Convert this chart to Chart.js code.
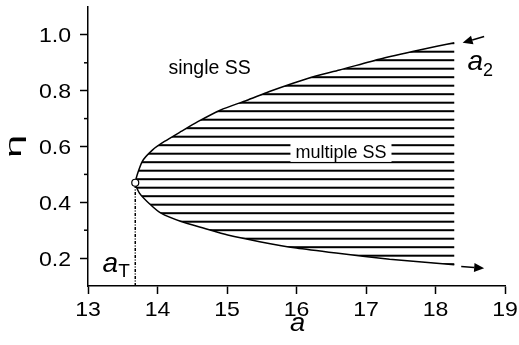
<!DOCTYPE html>
<html>
<head>
<meta charset="utf-8">
<script src="https://cdn.jsdelivr.net/npm/chart.js@4"></script>
<style>
  html, body { margin: 0; padding: 0; background: #fff; }
  canvas { display: block; }
</style>
</head>
<body>
<canvas id="fold" width="519" height="345"></canvas>
<script>
// 分岐曲線（下側の枝：右端から折り返し点へ）
const lowerA   = [18.27, 17.34, 16.57, 16.00, 15.47, 15.01, 14.67, 14.34, 14.05, 13.90, 13.74];
const lowerEta = [0.176, 0.196, 0.218, 0.236, 0.259, 0.283, 0.307, 0.331, 0.361, 0.391, 0.433];
// 上側の枝：折り返し点から右端へ
const upperA   = [13.78, 13.93, 14.10, 14.34, 14.58, 14.91, 15.28, 15.61, 15.95, 16.28, 16.62, 17.19, 17.77, 18.27];
const upperEta = [0.546, 0.588, 0.618, 0.654, 0.689, 0.731, 0.765, 0.797, 0.827, 0.853, 0.874, 0.913, 0.946, 0.972];

// 折り返し点 a_T
const turnA = 13.68;
const turnEta = 0.47;

// 目盛り
const xTicks = [13, 14, 15, 16, 17, 18, 19];
const yTicks = [0.2, 0.4, 0.6, 0.8, 1.0];
const yMinorTicks = [0.3, 0.5, 0.7, 0.9];

const FONT = '"Liberation Sans", Arial, sans-serif';

// 曲線を一本につなぐ
const curve = [];
for (let i = 0; i < lowerA.length; i++) curve.push({ x: lowerA[i], y: lowerEta[i] });
curve.push({ x: turnA, y: turnEta });
for (let i = 0; i < upperA.length; i++) curve.push({ x: upperA[i], y: upperEta[i] });

// 横線ハッチのパターン
function makeHatch() {
    const c = document.createElement('canvas');
    c.width = 4;
    c.height = 17;
    const g = c.getContext('2d');
    g.fillStyle = '#000';
    g.fillRect(0, 0, 4, 1.7);
    g.fillRect(0, 16.7, 4, 0.3);
    g.fillRect(0, 8.2, 4, 2);
    return g.createPattern(c, 'repeat');
}

// 横に少し伸ばした文字
function wideText(ctx, text, x, y, font, sx, align) {
    ctx.save();
    ctx.translate(x, y);
    ctx.scale(sx, 1);
    ctx.font = font;
    ctx.textAlign = align;
    ctx.textBaseline = 'alphabetic';
    ctx.fillStyle = '#000';
    ctx.fillText(text, 0, 0);
    ctx.restore();
}

// 矢印
function arrow(ctx, x1, y1, x2, y2) {
    const ang = Math.atan2(y2 - y1, x2 - x1);
    const len = 10, half = 4.5;
    const bx = x2 - len * Math.cos(ang), by = y2 - len * Math.sin(ang);
    ctx.beginPath();
    ctx.moveTo(x1, y1);
    ctx.lineTo(bx, by);
    ctx.lineWidth = 1.5;
    ctx.strokeStyle = '#000';
    ctx.stroke();
    ctx.beginPath();
    ctx.moveTo(x2, y2);
    ctx.lineTo(bx + half * Math.sin(ang), by - half * Math.cos(ang));
    ctx.lineTo(bx - half * Math.sin(ang), by + half * Math.cos(ang));
    ctx.closePath();
    ctx.fillStyle = '#000';
    ctx.fill();
}

// 添字つきの a
function subLabel(ctx, x, y, sub, subSize, drop) {
    ctx.fillStyle = '#000';
    ctx.textAlign = 'left';
    ctx.textBaseline = 'alphabetic';
    ctx.font = 'italic 28px ' + FONT;
    ctx.fillText('a', x, y);
    const w = ctx.measureText('a').width;
    ctx.font = subSize + 'px ' + FONT;
    ctx.fillText(sub, x + w, y + drop);
}

const notes = {
    id: 'notes',
    afterDraw(chart) {
        const ctx = chart.ctx;
        const xs = chart.scales.x, ys = chart.scales.y;
        const px = v => xs.getPixelForValue(v);
        const py = v => ys.getPixelForValue(v);
        const area = chart.chartArea;
        ctx.save();

        // y軸の補助目盛り
        ctx.strokeStyle = '#000';
        ctx.lineWidth = 1.5;
        yMinorTicks.forEach(v => {
            ctx.beginPath();
            ctx.moveTo(area.left - 4, py(v));
            ctx.lineTo(area.left, py(v));
            ctx.stroke();
        });

        // 目盛りラベル
        const tickFont = '21px ' + FONT;
        yTicks.forEach(v => wideText(ctx, v.toFixed(1), area.left - 17, py(v) + 7.5, tickFont, 1.1, 'right'));
        xTicks.forEach(v => wideText(ctx, String(v), px(v), area.bottom + 29.5, tickFont, 1.1, 'center'));

        // 軸タイトル
        wideText(ctx, 'a', (area.left + area.right) / 2 + 1, area.bottom + 45, 'italic 26px ' + FONT, 1.05, 'center');
        ctx.save();
        ctx.translate(21, (area.top + area.bottom) / 2);
        ctx.rotate(-Math.PI / 2);
        ctx.scale(1.9, 1);
        ctx.font = '22px ' + FONT;
        ctx.textAlign = 'center';
        ctx.textBaseline = 'alphabetic';
        ctx.fillStyle = '#000';
        ctx.fillText('η', 0, 0);
        ctx.restore();

        // 領域のラベル
        ctx.font = '19.5px ' + FONT;
        ctx.textAlign = 'center';
        ctx.textBaseline = 'middle';
        ctx.fillStyle = '#000';
        ctx.fillText('single SS', px(14.75), py(0.878));

        ctx.font = '18px ' + FONT;
        const mx = px(16.64), my = py(0.577);
        const mw = ctx.measureText('multiple SS').width;
        ctx.fillStyle = '#fff';
        ctx.fillRect(mx - mw / 2 - 5, my - 9, mw + 10, 18);
        ctx.fillStyle = '#000';
        ctx.fillText('multiple SS', mx, my);

        // 枝の向き
        arrow(ctx, px(18.70), py(0.994), px(18.39), py(0.972));
        arrow(ctx, px(18.37), py(0.170), px(18.70), py(0.164));

        subLabel(ctx, px(18.46), py(0.875), '2', 18, 6);
        subLabel(ctx, px(13.21), py(0.151), 'T', 19, 5);

        ctx.restore();
    }
};

new Chart(document.getElementById('fold'), {
    type: 'line',
    data: {
        datasets: [
            {
                // 折り返し点
                data: [{ x: turnA, y: turnEta }],
                showLine: false,
                pointRadius: 3.5,
                pointBackgroundColor: '#fff',
                pointBorderColor: '#000',
                pointBorderWidth: 1.2
            },
            {
                // 曲線
                data: curve,
                borderColor: '#000',
                borderWidth: 1.5,
                tension: 0.2,
                pointRadius: 0,
                fill: 'shape',
                backgroundColor: makeHatch()
            },
            {
                // a_T の縦線
                data: [{ x: turnA, y: 0.1 }, { x: turnA, y: turnEta }],
                borderColor: '#000',
                borderWidth: 1.5,
                borderDash: [3, 1.5, 1, 1.5],
                pointRadius: 0,
                fill: false
            }
        ]
    },
    options: {
        responsive: false,
        animation: false,
        layout: { padding: { top: 7, right: 14, left: 0, bottom: 0 } },
        plugins: {
            legend: { display: false },
            tooltip: { enabled: false }
        },
        scales: {
            x: {
                type: 'linear',
                min: 13,
                max: 19,
                afterBuildTicks: s => { s.ticks = xTicks.map(v => ({ value: v })); },
                afterFit: s => { s.height = 59; },
                border: { color: '#000', width: 1.5 },
                grid: { drawOnChartArea: false, tickLength: 8, tickColor: '#000', tickWidth: 1.5 },
                ticks: { display: false }
            },
            y: {
                type: 'linear',
                min: 0.1,
                max: 1.1,
                afterBuildTicks: s => { s.ticks = yTicks.map(v => ({ value: v })); },
                afterFit: s => { s.width = 88; },
                border: { color: '#000', width: 1.5 },
                grid: { drawOnChartArea: false, tickLength: 8, tickColor: '#000', tickWidth: 1.5 },
                ticks: { display: false }
            }
        }
    },
    plugins: [notes]
});
</script>
</body>
</html>
